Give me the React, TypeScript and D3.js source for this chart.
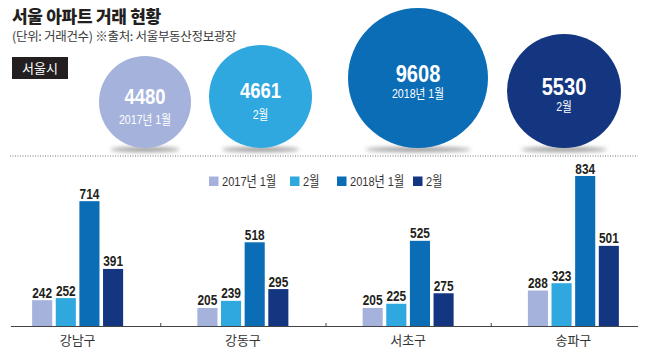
import React from 'react';
import * as d3 from 'd3';

const W = 654;
const H = 353;

// Seoul totals (circles)
const totalLabels = ['2017년 1월', '2월', '2018년 1월', '2월'];
const totalValues = [4480, 4661, 9608, 5530];

// District bars
const districts = ['강남구', '강동구', '서초구', '송파구'];
const seriesNames = ['2017년 1월', '2월', '2018년 1월', '2월'];
const v2017Jan = [242, 205, 205, 288];
const v2017Feb = [252, 239, 225, 323];
const v2018Jan = [714, 518, 525, 834];
const v2018Feb = [391, 295, 275, 501];
const seriesValues = [v2017Jan, v2017Feb, v2018Jan, v2018Feb];

const colors = ['#a5b3dc', '#2fa8e0', '#0b6db6', '#143680'];

const SANS = "'Liberation Sans', Arial, 'Noto Sans CJK KR', sans-serif";
const KR = "'Noto Sans CJK KR', 'Noto Sans', sans-serif";
const SQ = 0.82;

function NText(props: {
  x: number; y: number; children: React.ReactNode; size: number; bold?: boolean; fill: string;
  anchor?: 'start' | 'middle' | 'end'; sx?: number;
}) {
  const { x, y, children, size, bold, fill, anchor = 'start', sx = SQ } = props;
  return (
    <text transform={`translate(${x},${y}) scale(${sx},1)`} x={0} y={0} textAnchor={anchor}
      fontFamily={SANS} fontWeight={bold ? 700 : 400} fontSize={size} fill={fill}>
      {children}
    </text>
  );
}

export default function App() {
  // circle layout
  const sorted = [...totalValues].sort((a, b) => a - b);
  const rScale = d3.scaleLinear().domain(sorted).range([46, 51.5, 57, 70]);
  const circleBottom = 148;
  const circleGaps = [0, 18, 36, 19];
  const circles: { x: number; y: number; r: number; v: number; label: string }[] = [];
  let cursor = 99;
  totalValues.forEach((v, i) => {
    const r = rScale(v);
    cursor += circleGaps[i];
    const cx = cursor + r;
    cursor = cx + r;
    circles.push({ x: cx, y: circleBottom - r, r, v, label: totalLabels[i] });
  });

  // bar chart
  const baseY = 326;
  const x0 = d3.scaleBand<string>().domain(districts).range([-5, 656]).padding(0);
  const x1 = d3.scaleBand<number>().domain([0, 1, 2, 3]).range([-45.5, 45.5]).paddingInner(0.15);
  const y = d3.scaleLinear().domain([119, 834]).range([baseY, 176]);

  const legendX = [209, 290, 337, 413];

  return (
    <svg width={W} height={H} style={{ position: 'absolute', left: 0, top: 0, background: '#fff' }}>
      <defs>
        <filter id="shadowBlur" x="-50%" y="-200%" width="200%" height="500%">
          <feGaussianBlur stdDeviation="2" />
        </filter>
      </defs>
      <rect width={W} height={H} fill="#fff" />
      {/* Title */}
      <text x={12} y={23} fontFamily={KR} fontWeight={900} fontSize={17} fill="#231f20" letterSpacing={-0.3}>
        서울 아파트 거래 현황
      </text>
      <text x={12} y={41} fontFamily={KR} fontSize={12.5} fill="#3a3a3a" letterSpacing={-0.3}>
        (단위: 거래건수) ※출처: 서울부동산정보광장
      </text>
      <rect x={12} y={57} width={56} height={22} fill="#231f20" />
      <text x={40} y={73} textAnchor="middle" fontFamily={KR} fontSize={13} fill="#fff">
        서울시
      </text>

      {/* Circles */}
      {circles.map((c, i) => {
        const big = c.r > 55;
        return (
          <g key={'c' + i}>
            <ellipse cx={c.x} cy={circleBottom + 1.5} rx={c.r * 0.75} ry={2.5} fill="#9a9a9a" filter="url(#shadowBlur)" />
            <circle cx={c.x} cy={c.y} r={c.r} fill={colors[i]} />
            <NText x={c.x} y={c.y + (big ? 3.5 : 1.5)} anchor="middle" bold size={big ? 24.5 : 22.5} fill="#fff">
              {d3.format('d')(c.v)}
            </NText>
            <NText x={c.x} y={c.y + (big ? 20 : 22)} anchor="middle" size={13} fill="#fff">
              {c.label}
            </NText>
          </g>
        );
      })}

      {/* Dotted separator */}
      <line x1={10} x2={638} y1={156} y2={156} stroke="#777" strokeWidth={1} strokeDasharray="1,1.5" />

      {/* Legend */}
      {seriesNames.map((s, i) => (
        <g key={'l' + i}>
          <rect x={legendX[i]} y={176.5} width={9.5} height={9.5} fill={colors[i]} />
          <NText x={legendX[i] + 13} y={186} size={13.5} fill="#333">
            {s}
          </NText>
        </g>
      ))}

      {/* Bars */}
      {districts.map((d, di) => {
        const cx = (x0(d) as number) + x0.bandwidth() / 2;
        return (
          <g key={'g' + di}>
            {seriesValues.map((vals, si) => {
              const v = vals[di];
              const bx = cx + (x1(si) as number);
              const top = y(v);
              return (
                <g key={'b' + si}>
                  <rect x={bx} y={top} width={x1.bandwidth()} height={baseY - top} fill={colors[si]} />
                  <NText x={bx + x1.bandwidth() / 2} y={top - 2.5} anchor="middle" bold size={14.5} fill="#231f20">
                    {v}
                  </NText>
                </g>
              );
            })}
            <text x={cx} y={345} textAnchor="middle" fontFamily={KR} fontSize={13} fill="#333">
              {d}
            </text>
          </g>
        );
      })}

      {/* Axis */}
      <line x1={11} x2={638} y1={baseY + 0.5} y2={baseY + 0.5} stroke="#444" strokeWidth={1} />
      {districts.slice(1).map((d, i) => (
        <line key={'t' + i} x1={(x0(d) as number) + 0.5} x2={(x0(d) as number) + 0.5} y1={baseY} y2={baseY - 3}
          stroke="#444" strokeWidth={1} />
      ))}
    </svg>
  );
}
